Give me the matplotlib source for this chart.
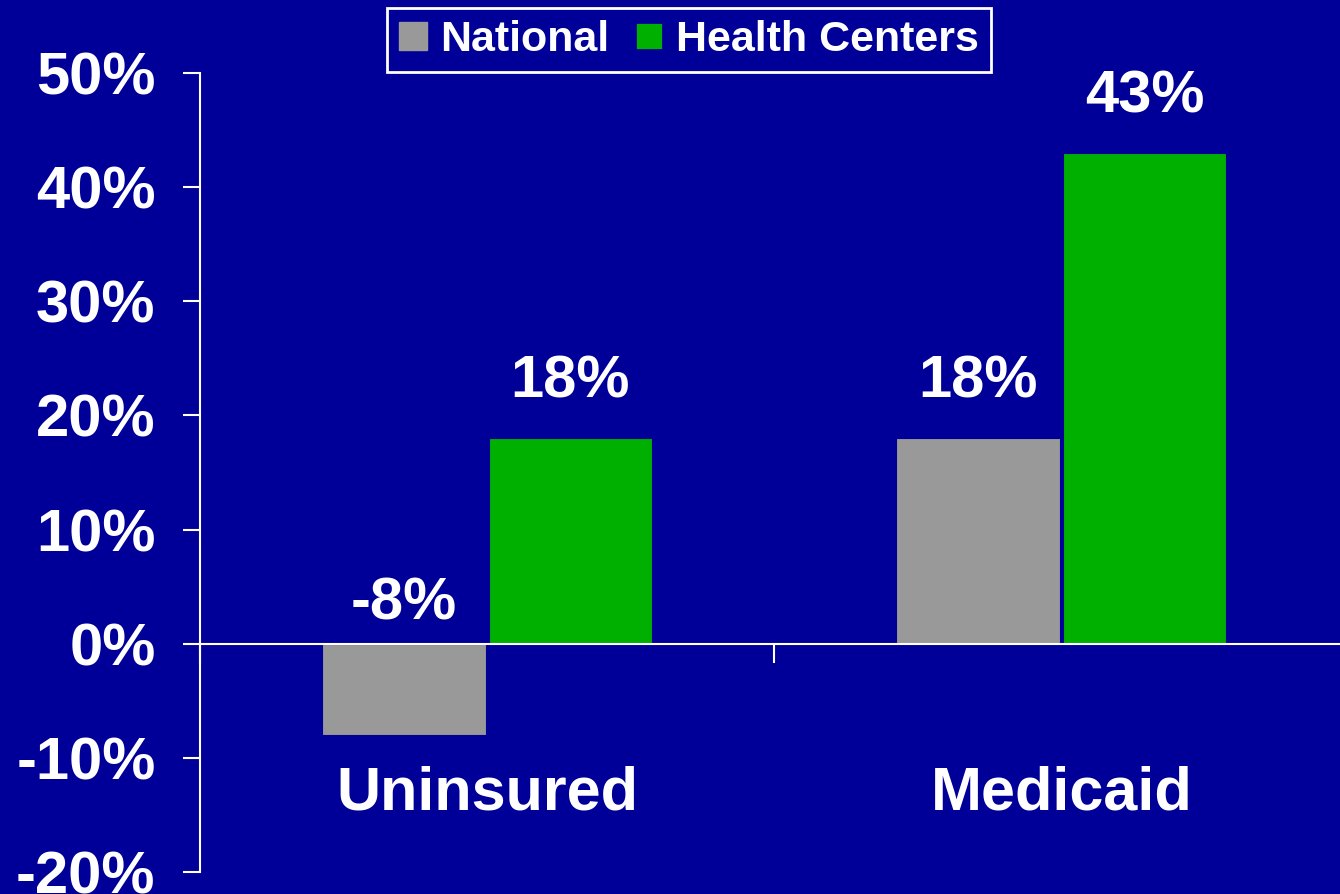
import matplotlib
matplotlib.use("Agg")
import matplotlib.pyplot as plt
import numpy as np
from matplotlib.patches import Patch

# data
categories = ["Uninsured", "Medicaid"]
series_names = ["National", "Health Centers"]
national = [-8, 18]
health_centers = [18, 43]
y_ticks = [-20, -10, 0, 10, 20, 30, 40, 50]

bg = "#000099"
grey = "#999999"
green = "#00b000"

plt.rcParams["font.family"] = ["Liberation Sans", "DejaVu Sans"]
plt.rcParams["font.weight"] = "bold"

fig = plt.figure(figsize=(13.4, 8.94), dpi=100, facecolor=bg)
ax = fig.add_axes([0.1493, 0.0246, 0.857, 0.8937])
ax.set_facecolor(bg)

x = np.arange(len(categories))
w = 0.285
off = 0.145
ax.bar(x - off, national, w, color=grey, edgecolor=bg, linewidth=0.8, zorder=2)
ax.bar(x + off, health_centers, w, color=green, edgecolor=bg, linewidth=0.8, zorder=2)

# value labels above bars
for xs, vals in [(x - off, national), (x + off, health_centers)]:
    for xi, v in zip(xs, vals):
        ypos = v + 2.5 if v > 0 else 1.1
        ax.text(xi, ypos, f"{v}%", ha="center", va="bottom", color="white",
                fontsize=43, fontweight="bold")

# category names below zero line
for xi, name in zip(x, categories):
    ax.text(xi, -13.2, name, ha="center", va="center", color="white",
            fontsize=44, fontweight="bold")

ax.set_xlim(-0.5, 1.5)
ax.set_ylim(-20, 50)
ax.set_yticks(y_ticks)
ax.set_yticklabels([f"{t}%" for t in y_ticks])
ax.set_xticks([-0.5, 0.5, 1.5])
ax.set_xticklabels([])

for s in ["top", "right"]:
    ax.spines[s].set_visible(False)
ax.spines["bottom"].set_position(("data", 0))
ax.spines["bottom"].set_color("white")
ax.spines["left"].set_color("white")
ax.spines["bottom"].set_linewidth(1.5)
ax.spines["left"].set_linewidth(1.5)
ax.tick_params(axis="y", colors="white", length=12, width=1.5, pad=20,
               labelsize=43)
ax.tick_params(axis="x", colors="white", length=14, width=1.5)
for lbl in ax.get_yticklabels():
    lbl.set_fontweight("bold")

handles = [Patch(facecolor=grey, edgecolor=grey),
           Patch(facecolor=green, edgecolor=bg, linewidth=2)]
leg = fig.legend(handles, series_names, loc="upper center",
                 bbox_to_anchor=(0.514, 0.991), ncol=2, fontsize=31,
                 frameon=True, fancybox=False, facecolor=bg, edgecolor="white",
                 framealpha=1, borderaxespad=0,
                 handlelength=0.65, handleheight=0.65, handletextpad=0.3,
                 columnspacing=0.6, borderpad=0.28, labelcolor="white")
leg.get_frame().set_linewidth(2)
for t in leg.get_texts():
    t.set_fontweight("bold")

fig.savefig("out.png", dpi=100, facecolor=bg)
